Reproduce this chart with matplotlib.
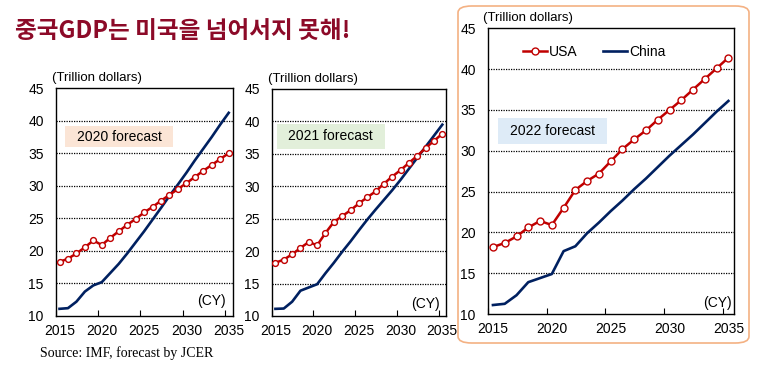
import matplotlib.pyplot as plt
from matplotlib.patches import FancyBboxPatch, Rectangle

# 데이터 (그림에서 읽은 값, 조 달러)
years = list(range(2015, 2036))

usa_2020 = [18.3, 18.8, 19.6, 20.55, 21.6, 20.9, 22.0, 23.0, 24.0, 24.9, 25.9,
            26.75, 27.7, 28.6, 29.5, 30.4, 31.35, 32.3, 33.2, 34.1, 35.0]
china_2020 = [11.1, 11.2, 12.2, 13.75, 14.7, 15.2, 16.6, 18.0, 19.6, 21.3, 23.0,
              24.8, 26.6, 28.45, 30.2, 32.0, 33.9, 35.7, 37.5, 39.4, 41.2]

usa_2021 = [18.2, 18.7, 19.5, 20.5, 21.4, 20.9, 22.8, 24.5, 25.4, 26.3, 27.35,
            28.3, 29.2, 30.4, 31.5, 32.5, 33.6, 34.7, 35.9, 37.0, 38.1]
china_2021 = [11.1, 11.15, 12.2, 13.9, 14.4, 14.9, 16.6, 18.2, 19.9, 21.5, 23.2,
              24.85, 26.4, 27.9, 29.4, 31.0, 32.7, 34.4, 36.1, 37.8, 39.5]

usa_2022 = [18.2, 18.7, 19.5, 20.6, 21.4, 20.9, 23.0, 25.2, 26.3, 27.2, 28.7,
            30.2, 31.4, 32.5, 33.8, 35.0, 36.2, 37.5, 38.8, 40.1, 41.4]
china_2022 = [11.1, 11.25, 12.3, 13.9, 14.4, 14.9, 17.7, 18.3, 19.9, 21.2, 22.6,
              23.9, 25.3, 26.6, 28.0, 29.4, 30.7, 32.0, 33.4, 34.8, 36.1]

x_ticks = [2015, 2020, 2025, 2030, 2035]
y_ticks = [10, 15, 20, 25, 30, 35, 40, 45]
labels = ['2020 forecast', '2021 forecast', '2022 forecast']
box_colors = ['#FBE5D6', '#E2EFDA', '#DEEBF7']

RED = '#C00000'
NAVY = '#002060'

plt.rcParams['font.family'] = ['Liberation Sans', 'DejaVu Sans']

fig = plt.figure(figsize=(7.64, 3.67), dpi=100)

# 축 위치 (figure 좌표)
ax_pos = [[0.0729, 0.139, 0.232, 0.621],
          [0.3556, 0.139, 0.2288, 0.6185],
          [0.6383, 0.1444, 0.3228, 0.7785]]
# forecast 박스 (axes 좌표: x0, y0, w, h)
box_pos = [[0.052, 0.741, 0.610, 0.092],
           [0.029, 0.736, 0.619, 0.110],
           [0.041, 0.595, 0.443, 0.091]]
cy_pos = [(0.96, 0.067), (0.96, 0.052), (0.99, 0.038)]
msizes = [4.2, 4.2, 5.0]

series = [(usa_2020, china_2020), (usa_2021, china_2021), (usa_2022, china_2022)]

# 3번째 패널 주황 테두리
fig.patches.append(FancyBboxPatch((458 / 764, 1 - 343 / 367), 291 / 764, 337 / 367,
                                  boxstyle='round,pad=0,rounding_size=0.018',
                                  transform=fig.transFigure, fill=False,
                                  edgecolor='#F4B183', linewidth=1.2))

for i in range(3):
    ax = fig.add_axes(ax_pos[i])
    usa, china = series[i]
    ax.plot(years, usa, color=RED, lw=1.8, marker='o', ms=msizes[i],
            mfc='white', mec=RED, mew=1.0, label='USA', zorder=4)
    ax.plot(years, china, color=NAVY, lw=1.9, label='China', zorder=3)

    ax.set_xlim(2014.55, 2035.5)
    ax.set_ylim(10, 45)
    ax.set_yticks(y_ticks)
    ax.set_xticks(x_ticks)
    ax.set_xticks([t - 0.45 for t in x_ticks], minor=True)
    ax.tick_params(axis='both', which='major', length=0, labelsize=10)
    ax.tick_params(axis='y', pad=8.6)
    ax.tick_params(axis='x', pad=6)
    ax.tick_params(axis='x', which='minor', direction='in', length=4, width=0.8)
    for y in y_ticks[1:-1]:
        ax.axhline(y, color='black', lw=0.9, ls=(0, (1, 1)), zorder=1)
    for s in ax.spines.values():
        s.set_linewidth(1.0)
        s.set_color('black')

    bx, by, bw, bh = box_pos[i]
    ax.add_patch(Rectangle((bx, by), bw, bh, transform=ax.transAxes,
                           facecolor=box_colors[i], edgecolor='none', zorder=2))
    ax.text(bx + bw / 2, by + bh / 2, labels[i], transform=ax.transAxes,
            ha='center', va='center', fontsize=10, zorder=3)

    ax.text(cy_pos[i][0], cy_pos[i][1], '(CY)', transform=ax.transAxes,
            ha='right', va='center', fontsize=10)
    ax.text(-0.02, 1.045 if i < 2 else 1.035, '(Trillion dollars)', transform=ax.transAxes,
            ha='left', va='center', fontsize=9.5)

    if i == 2:
        ax.legend(loc='center left', bbox_to_anchor=(0.143, 0.918), ncol=2,
                  frameon=False, fontsize=10, handlelength=1.75, handletextpad=0.15,
                  columnspacing=1.8, borderpad=0, borderaxespad=0)

fig.text(15 / 764, 1 - 31.5 / 367, '중국GDP는 미국을 넘어서지 못해!', ha='left', va='center',
         fontsize=17, fontweight='bold', color='#8C0A28',
         family=['Noto Sans CJK KR', 'DejaVu Sans'])
fig.text(40 / 764, 1 - 353 / 367, 'Source: IMF, forecast by JCER', ha='left', va='center',
         fontsize=10, family=['Liberation Serif', 'DejaVu Serif'])

fig.savefig('out.png', dpi=100)
